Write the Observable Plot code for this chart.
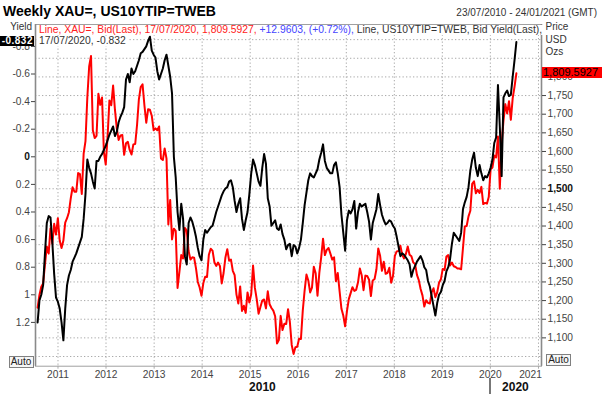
<!DOCTYPE html>
<html><head><meta charset="utf-8">
<script src="https://cdn.jsdelivr.net/npm/d3@7"></script>
<script src="https://cdn.jsdelivr.net/npm/@observablehq/plot@0.6"></script>
<style>
html,body{margin:0;padding:0;background:#fff;}
#wrap{position:relative;width:602px;height:394px;overflow:hidden;font-family:"Liberation Sans",Arial,sans-serif;color:#333;background:#fff;}
#wrap svg{position:absolute;left:0;top:0;}
.lbl{position:absolute;white-space:nowrap;line-height:1;font-size:10px;}
</style></head><body><div id="wrap"></div>
<script>
// Weekly series sampled every second Friday, 30/07/2010 ... 17/07/2020
const firstFriday = new Date(2010, 6, 30);
const goldPrice = [
  1181,1215,1237,1246,1297,1345,1326,1394,1353,1406,1377,1421,
  1361,1341,1361,1409,1421,1437,1474,1504,1492,1492,1542,1539,1486,1594,1628,1745,1828,1856,1657,1636,1642,1755,1725,1745,1598,1565,
  1640,1737,1724,1777,1712,1662,1631,1643,1644,1591,1622,1626,1604,1592,1619,1620,1671,1740,1773,1780,1724,1677,1713,1712,1696,1657,
  1662,1657,1667,1581,1577,1608,1581,1404,1470,1364,1393,1387,1234,1277,1322,1313,1395,1387,1333,1310,1316,1315,1287,1250,1235,1213,
  1247,1264,1263,1323,1339,1334,1303,1293,1302,1293,1246,1274,1316,1338,1307,1310,1280,1268,1216,1192,1238,1172,1186,1167,1222,1195,
  1217,1294,1234,1204,1165,1183,1200,1203,1179,1225,1190,1180,1173,1158,1085,1094,1159,1121,1138,1137,1177,1142,1081,1057,1075,1076,
  1098,1097,1173,1227,1270,1254,1222,1235,1291,1273,1213,1275,1316,1366,1322,1336,1341,1326,1310,1316,1252,1274,1225,1178,1160,1131,
  1172,1204,1220,1236,1226,1229,1249,1286,1268,1228,1267,1266,1256,1212,1254,1258,1284,1340,1320,1280,1304,1272,1274,1288,1248,1266,
  1320,1332,1333,1347,1323,1313,1325,1345,1323,1319,1302,1298,1269,1255,1231,1214,1184,1201,1194,1192,1222,1233,1209,1222,1248,1257,
  1285,1282,1318,1322,1294,1302,1292,1290,1286,1286,1284,1341,1399,1400,1426,1441,1513,1520,1488,1497,1489,1505,1459,1462,1460,1478,
  1552,1557,1589,1584,1640,1500,1620,1683,1727,1702,1735,1685,1743,1774,1809.5927
];
const realYield = [
  1.20,1.04,1.00,0.93,0.70,0.48,0.43,0.44,0.62,0.85,1.02,1.05,
  1.10,1.20,1.33,1.10,0.93,0.86,0.82,0.76,0.73,0.70,0.66,0.62,0.58,0.45,0.27,0.02,0.08,0.12,0.18,0.23,0.03,0.03,0.00,-0.02,-0.05,-0.08,
  -0.12,-0.16,-0.19,-0.22,-0.15,-0.18,-0.25,-0.29,-0.32,-0.36,-0.56,-0.60,-0.54,-0.64,-0.60,-0.62,-0.66,-0.70,-0.75,-0.76,-0.78,-0.80,-0.84,-0.87,-0.77,-0.74,
  -0.72,-0.62,-0.56,-0.60,-0.64,-0.70,-0.74,-0.66,-0.58,-0.46,0.00,0.15,0.40,0.53,0.34,0.45,0.72,0.78,0.48,0.44,0.47,0.52,0.58,0.66,0.72,0.75,
  0.60,0.53,0.55,0.53,0.51,0.50,0.45,0.40,0.36,0.32,0.28,0.25,0.23,0.22,0.18,0.17,0.22,0.32,0.40,0.34,0.30,0.45,0.53,0.46,0.40,0.27,
  0.12,0.02,0.06,0.12,0.18,0.21,0.08,-0.02,0.05,0.30,0.36,0.50,0.48,0.46,0.52,0.53,0.49,0.56,0.60,0.67,0.64,0.63,0.72,0.64,0.65,0.70,
  0.66,0.60,0.48,0.35,0.26,0.17,0.12,0.14,0.15,0.12,0.09,0.02,-0.03,-0.09,0.03,0.08,0.10,0.12,0.12,0.06,0.04,0.12,0.22,0.42,0.55,0.68,
  0.46,0.39,0.41,0.38,0.32,0.52,0.40,0.34,0.36,0.35,0.34,0.40,0.47,0.60,0.48,0.43,0.38,0.27,0.35,0.42,0.46,0.49,0.48,0.46,0.47,0.50,
  0.52,0.58,0.65,0.72,0.70,0.71,0.73,0.75,0.78,0.87,0.82,0.79,0.76,0.74,0.72,0.75,0.80,0.82,0.90,0.94,1.01,1.08,1.15,1.06,1.00,0.98,
  0.93,0.90,0.83,0.80,0.74,0.63,0.55,0.57,0.59,0.61,0.55,0.38,0.33,0.29,0.22,0.10,0.02,-0.03,0.08,0.14,0.06,0.12,0.17,0.14,0.15,0.12,
  0.08,0.02,-0.10,-0.14,-0.52,-0.22,0.14,-0.43,-0.46,-0.48,-0.44,-0.45,-0.58,-0.70,-0.832
];
const yieldTicks = [-0.8,-0.6,-0.4,-0.2,0,0.2,0.4,0.6,0.8,1,1.2];
const priceTicks = [1100,1150,1200,1250,1300,1350,1400,1450,1500,1550,1600,1650,1700,1750,1800];
const priceGrid = [1050,1100,1150,1200,1250,1300,1350,1400,1450,1500,1550,1600,1650,1700,1750,1800,1850,1900];
const yearTicks = [2011,2012,2013,2014,2015,2016,2017,2018,2019,2020,2021].map(y => new Date(y, 0, 1));
const decadeStarts = [2010, 2020];
const xDomain = [new Date(2010, 6, 14), new Date(2021, 0, 24)];
const priceDomain = [1024, 1940.6];
const yieldDomain = [1.5174, -0.9587];

const rows = goldPrice.map((g, i) => ({date: d3.timeDay.offset(firstFriday, 14 * i), gold: g, yld: realYield[i]}));

const W = 602, H = 394;
const M = {marginLeft: 35, marginRight: 61, marginTop: 24, marginBottom: 28.3};
const font = {background: "transparent", fontFamily: "Liberation Sans, Arial, sans-serif", overflow: "visible"};
const gridStyle = {stroke: "#a9a9a9", strokeDasharray: "1.3,2.2", strokeWidth: 1};

const goldPlot = Plot.plot({
  width: W, height: H, ...M, style: font,
  x: {type: "time", domain: xDomain, label: null},
  y: {domain: priceDomain, label: null},
  marks: [
    Plot.ruleY(priceGrid, gridStyle),
    Plot.ruleX(yearTicks, gridStyle),
    Plot.frame({stroke: "#a0a0a0", strokeWidth: 1}),
    Plot.ruleX(xDomain, {stroke: "#8a8a8a", strokeWidth: 1.6}),
    Plot.axisY(priceTicks, {anchor: "right", label: null, tickFormat: d3.format(","), tickSize: 4, tickPadding: 2, fontSize: 10.2, color: "#444"}),
    Plot.axisX(yearTicks, {anchor: "bottom", label: null, tickFormat: d3.timeFormat("%Y"), tickSize: 3, tickPadding: 2, fontSize: 10.2, color: "#444", stroke: "#aaa"}),
    Plot.line(rows, {x: "date", y: "gold", stroke: "#ff0000", strokeWidth: 2})
  ]
});

const yieldPlot = Plot.plot({
  width: W, height: H, ...M, style: font,
  x: {type: "time", domain: xDomain, axis: null, label: null},
  y: {domain: yieldDomain, label: null},
  marks: [
    Plot.axisY(yieldTicks, {anchor: "left", label: null, tickFormat: d => String(+d.toFixed(1)), tickSize: 4, tickPadding: 1.5, fontSize: 10.2, color: "#444"}),
    Plot.line(rows, {x: "date", y: "yld", stroke: "#000", strokeWidth: 2})
  ]
});

const wrap = document.getElementById("wrap");
wrap.appendChild(goldPlot);
wrap.appendChild(yieldPlot);

// bold reference ticks, keep last year label inside the frame
for (const t of [...goldPlot.querySelectorAll("text"), ...yieldPlot.querySelectorAll("text")]) {
  if (t.textContent === "0" || t.textContent === "1,500") { t.setAttribute("font-weight", "bold"); t.setAttribute("fill", "#111"); }
}
const yearLabels = [...goldPlot.querySelectorAll("text")].filter(t => /^20\d\d$/.test(t.textContent));
if (yearLabels.length) {
  const last = yearLabels[yearLabels.length - 1];
  const tr = last.getAttribute("transform") || "";
  last.setAttribute("transform", tr + " translate(-8,0)");
}

const xs = goldPlot.scale("x"), ys = goldPlot.scale("y"), yy = yieldPlot.scale("y");
function label(html, css) {
  const d = document.createElement("div");
  d.className = "lbl";
  d.innerHTML = html;
  Object.assign(d.style, css);
  wrap.appendChild(d);
  return d;
}
label("Weekly XAU=, US10YTIP=TWEB", {left: "3px", top: "3.5px", fontSize: "14px", fontWeight: "bold", color: "#000"});
label("23/07/2010 - 24/01/2021 (GMT)", {right: "5px", top: "8.4px", fontSize: "10px", color: "#333"});
label('<span style="color:#ff2020">Line, XAU=, Bid(Last), 17/07/2020, 1,809.5927,</span> <span style="color:#4444ff">+12.9603, (+0.72%),</span> <span style="color:#333">Line, US10YTIP=TWEB, Bid Yield(Last),</span>',
  {left: "37px", top: "24.7px", fontSize: "10.35px", background: "#fff", padding: "0 2px"});
label("17/07/2020, -0.832", {left: "37px", top: "35.5px", fontSize: "10.35px", background: "#fff", padding: "0 2px", color: "#333"});
label("Yield", {right: (W - 32) + "px", top: "22.3px"});
label("Price", {left: "545.5px", top: "22.3px"});
label("USD", {left: "545.5px", top: "34.6px"});
label("Ozs", {left: "545.5px", top: "47.3px"});

const lastGold = goldPrice[goldPrice.length - 1];
const lastYield = realYield[realYield.length - 1];
label(d3.format(",.4f")(lastGold), {left: "542px", width: "60px", height: "11px", top: (ys.apply(lastGold) - 5.5) + "px", background: "#ff0000", color: "#000", fontSize: "11px", paddingLeft: "1px", boxSizing: "border-box", lineHeight: "11px"});
label(lastYield.toFixed(3), {left: "0px", width: "34px", height: "10px", top: (yy.apply(lastYield) - 5.5) + "px", background: "#000", color: "#fff", fontSize: "10px", fontWeight: "bold", textAlign: "right", letterSpacing: "0.5px", paddingRight: "1px", boxSizing: "border-box", lineHeight: "10px"});

const autoCss = {width: "23px", height: "10px", border: "1px solid #808080", background: "#f6f6f6", fontSize: "10px", lineHeight: "10px", textAlign: "center", color: "#222", boxSizing: "content-box"};
label("Auto", {...autoCss, left: "8.5px", top: "355.5px"});
label("Auto", {...autoCss, left: "546px", top: "354px"});

// decade labels and separator
const d0 = new Date(decadeStarts[1], 0, 1);
const xa = xs.apply(xDomain[0]), xb = xs.apply(d0), xc = xs.apply(xDomain[1]);
label(String(decadeStarts[0]), {left: ((xa + xb) / 2 - 20) + "px", width: "40px", textAlign: "center", top: "380.5px", fontSize: "12px", fontWeight: "bold", color: "#111"});
label(String(decadeStarts[1]), {left: ((xb + xc) / 2 - 20) + "px", width: "40px", textAlign: "center", top: "380.5px", fontSize: "12px", fontWeight: "bold", color: "#111"});
const sep = document.createElement("div");
Object.assign(sep.style, {position: "absolute", left: (xb - 0.75) + "px", top: "378px", width: "1.5px", height: "16px", background: "#777"});
wrap.appendChild(sep);
</script></body></html>
